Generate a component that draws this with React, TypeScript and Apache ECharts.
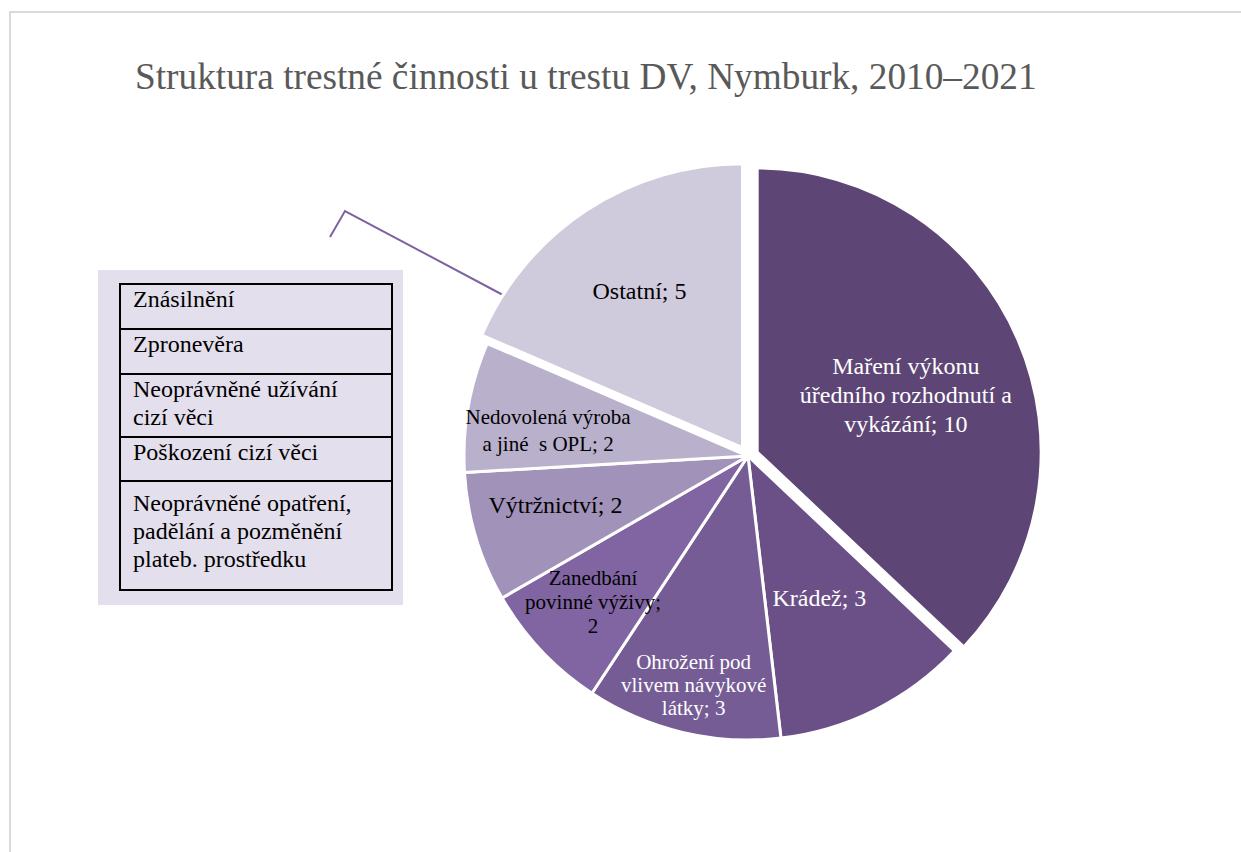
import React, { useEffect, useRef } from "react";
import * as echarts from "echarts";

// ---- data ----
const categories = [
  "Maření výkonu\núředního rozhodnutí a\nvykázání",
  "Krádež",
  "Ohrožení pod\nvlivem návykové\nlátky",
  "Zanedbání\npovinné výživy",
  "Výtržnictví",
  "Nedovolená výroba\na jiné  s OPL",
  "Ostatní",
];
const values = [10, 3, 3, 2, 2, 2, 5];
const labelSeparators = ["; ", "; ", "; ", ";\n", "; ", "; ", "; "];
const explodedSlices = [true, false, false, false, false, false, true];
const otherOffences = [
  "Znásilnění",
  "Zpronevěra",
  "Neoprávněné užívání\ncizí věci",
  "Poškození cizí věci",
  "Neoprávněné opatření,\npadělání a pozměnění\nplateb. prostředku",
];
const titleText = "Struktura trestné činnosti u trestu DV, Nymburk, 2010–2021";

// ---- styles ----
const sliceColors = ["#5d4675", "#6b5088", "#755c95", "#8165a3", "#a192ba", "#b9b0cc", "#d0cadd"];
const labelColors = ["#ffffff", "#ffffff", "#ffffff", "#000000", "#000000", "#000000", "#000000"];
const labelFontSizes = [24, 24, 21, 21, 24, 21, 24];
const labelLineHeights = [29, 28, 23, 24, 28, 27, 28];
const labelRadiusFractions = [0.56, 0.56, 0.83, 0.75, 0.7, 0.71, 0.66];
const labelAngleNudges = [2.5, 0, 0, 0, 2.3, -2.6, 0]; // degrees
const rowHeights = [45, 45, 63, 44, 109];
const rowTextPads = [1, 1, 1, 1, 8];
const FONT = "'Liberation Serif', 'Times New Roman', serif";
const CENTER = [748, 456];
const RADIUS = 284;
const EXPLODE = 10;

export default function App() {
  const ref = useRef<HTMLDivElement>(null);
  useEffect(() => {
    if (!ref.current) return;
    const chart = echarts.init(ref.current, null, { renderer: "svg" });
    const total = values.reduce((a, b) => a + b, 0);
    let acc = 0;
    const labelPos: number[][] = [];
    const sliceShift: number[][] = [];
    values.forEach((v, i) => {
      const mid = ((acc + v / 2) / total) * Math.PI * 2;
      acc += v;
      const off = explodedSlices[i] ? EXPLODE : 0;
      const sx = off * Math.sin(mid);
      const sy = -off * Math.cos(mid);
      sliceShift.push([sx, sy]);
      const la = mid + (labelAngleNudges[i] * Math.PI) / 180;
      const d = labelRadiusFractions[i] * RADIUS;
      labelPos.push([CENTER[0] + sx + d * Math.sin(la), CENTER[1] + sy - d * Math.cos(la)]);
    });

    // groups: each exploded slice gets its own shifted pie; the rest share one
    const groups: number[][] = [];
    const rest: number[] = [];
    values.forEach((_, i) => (explodedSlices[i] ? groups.push([i]) : rest.push(i)));
    groups.push(rest);

    const series = groups.map((group) => {
      const shift = group.length === 1 ? sliceShift[group[0]] : [0, 0];
      return {
        type: "pie",
        center: [CENTER[0] + shift[0], CENTER[1] + shift[1]],
        radius: RADIUS,
        startAngle: 90,
        clockwise: true,
        avoidLabelOverlap: false,
        emphasis: { disabled: true },
        silent: true,
        labelLine: { show: false },
        labelLayout: (p: any) => ({
          x: labelPos[p.dataIndex][0],
          y: labelPos[p.dataIndex][1],
          align: "center",
          verticalAlign: "middle",
        }),
        data: categories.map((name, i) => {
          const visible = group.includes(i);
          return {
            name,
            value: values[i],
            itemStyle: visible
              ? { color: sliceColors[i], borderColor: "#ffffff", borderWidth: 3 }
              : { color: "rgba(0,0,0,0)", borderWidth: 0 },
            label: visible
              ? {
                  show: true,
                  position: "inside",
                  color: labelColors[i],
                  fontSize: labelFontSizes[i],
                  lineHeight: labelLineHeights[i],
                  fontFamily: FONT,
                  align: "center",
                  formatter: (p: any) => `${p.name}${labelSeparators[i]}${p.value}`,
                }
              : { show: false },
          };
        }),
      };
    });

    let y = 284;
    const tableEls: any[] = [];
    otherOffences.forEach((t, i) => {
      tableEls.push({
        type: "rect",
        shape: { x: 120, y, width: 272, height: rowHeights[i] },
        style: { fill: "none", stroke: "#000000", lineWidth: 2 },
      });
      tableEls.push({
        type: "text",
        x: 133,
        y: y + rowTextPads[i],
        style: {
          text: t,
          fontSize: 24,
          fontFamily: FONT,
          lineHeight: 28,
          fill: "#000000",
          verticalAlign: "top",
          align: "left",
        },
      });
      y += rowHeights[i];
    });

    chart.setOption({
      animation: false,
      backgroundColor: "#ffffff",
      title: {
        text: titleText,
        left: 135,
        top: 58,
        padding: 0,
        textStyle: { color: "#595959", fontSize: 37.3, fontWeight: "normal", fontFamily: FONT },
      },
      graphic: [
        {
          type: "rect",
          shape: { x: 10, y: 12, width: 1240, height: 850 },
          style: { fill: "none", stroke: "#d9d9d9", lineWidth: 2 },
          silent: true,
        },
        {
          type: "rect",
          shape: { x: 98, y: 270, width: 305, height: 335 },
          style: { fill: "#e4dfec" },
        },
        ...tableEls,
        {
          type: "polyline",
          shape: { points: [[330, 237], [345, 211], [503, 295]] },
          style: { stroke: "#7e62a1", lineWidth: 2, fill: "none" },
        },
      ],
      series,
    });
    return () => chart.dispose();
  }, []);
  return (
    <div
      ref={ref}
      style={{ position: "fixed", left: 0, top: 0, width: 1241, height: 852, background: "#fff" }}
    />
  );
}
